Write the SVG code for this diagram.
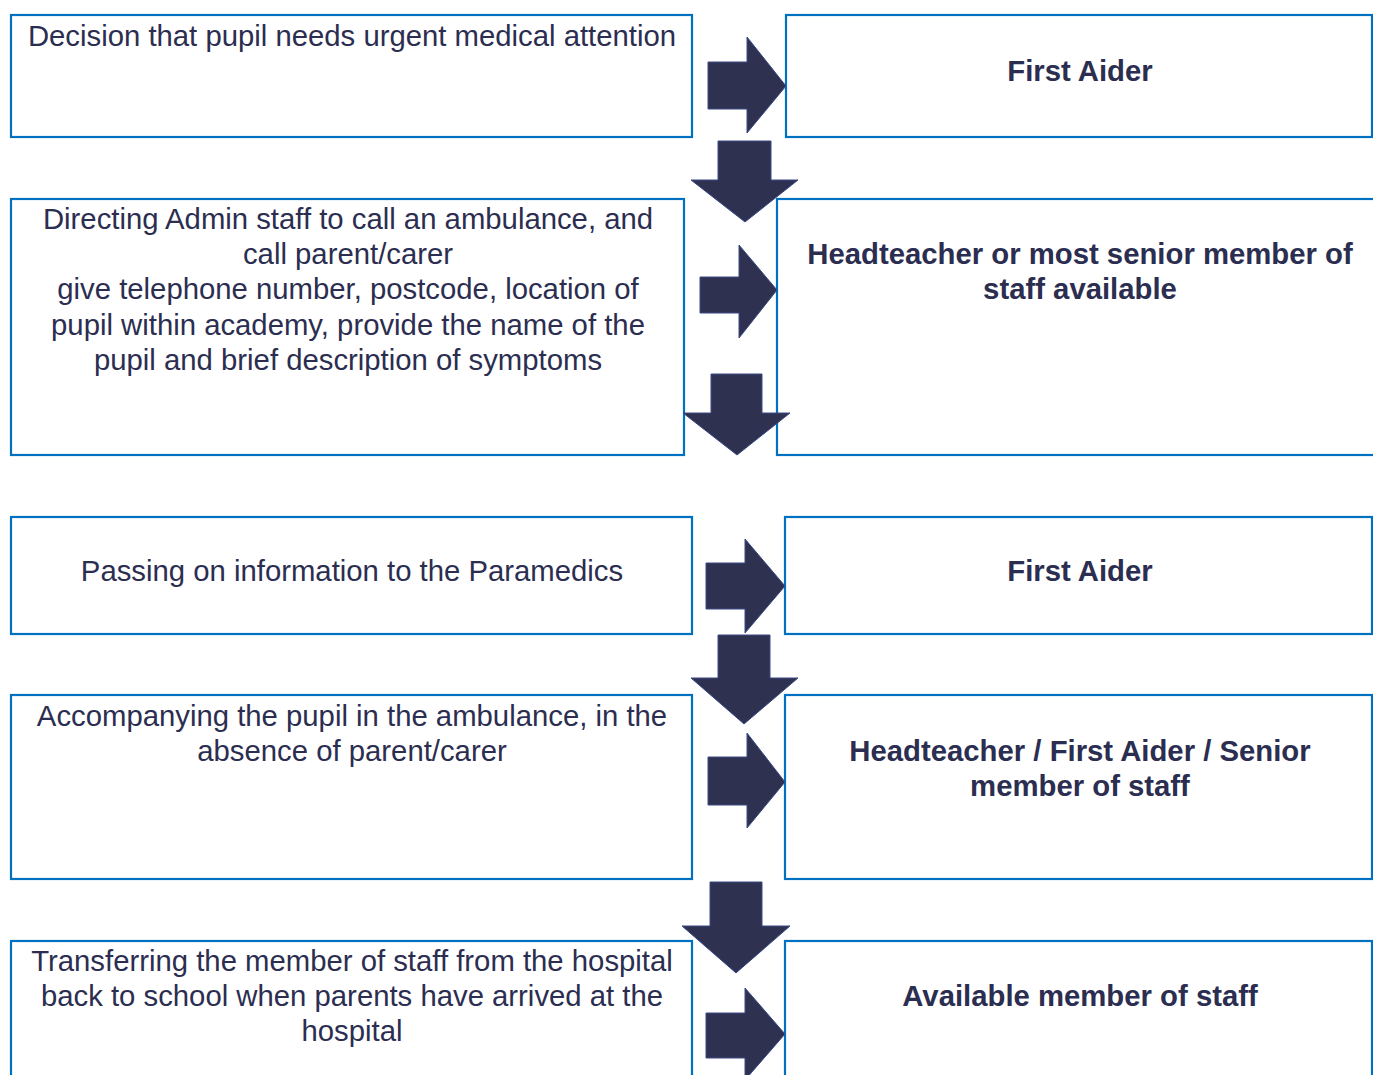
<svg xmlns="http://www.w3.org/2000/svg" width="1373" height="1075" viewBox="0 0 1373 1075">
<style>
.box{fill:#ffffff;stroke:#0070c0;stroke-width:2.2}
.t{font-family:"Liberation Sans",Arial,sans-serif;font-size:29.3px;fill:#2b2e50;text-anchor:middle}
.b{font-weight:bold}
.arr{fill:#2e3150;stroke:#3a4a86;stroke-width:1;stroke-linejoin:miter}
</style>
<rect width="1373" height="1075" fill="#ffffff"/>
<g id="node-decision"><rect class="box" x="11" y="15" width="681" height="122"/><text class="t" x="352" y="46">Decision that pupil needs urgent medical attention</text></g>
<g id="node-firstaider1"><rect class="box" x="786" y="15" width="586" height="122"/><text class="t b" x="1080" y="81">First Aider</text></g>
<g id="node-directing"><rect class="box" x="11" y="199" width="673" height="256"/><text class="t" x="348"><tspan x="348" y="229">Directing Admin staff to call an ambulance, and</tspan><tspan x="348" y="264">call parent/carer</tspan><tspan x="348" y="299">give telephone number, postcode, location of</tspan><tspan x="348" y="334.5">pupil within academy, provide the name of the</tspan><tspan x="348" y="370">pupil and brief description of symptoms</tspan></text></g>
<g id="node-headteacher"><rect class="box" x="777" y="199" width="620" height="256"/><text class="t b" x="1080"><tspan x="1080" y="264">Headteacher or most senior member of</tspan><tspan x="1080" y="299">staff available</tspan></text></g>
<g id="node-passing"><rect class="box" x="11" y="517" width="681" height="117"/><text class="t" x="352" y="581">Passing on information to the Paramedics</text></g>
<g id="node-firstaider2"><rect class="box" x="785" y="517" width="587" height="117"/><text class="t b" x="1080" y="581">First Aider</text></g>
<g id="node-accompanying"><rect class="box" x="11" y="695" width="681" height="184"/><text class="t" x="352"><tspan x="352" y="726">Accompanying the pupil in the ambulance, in the</tspan><tspan x="352" y="761">absence of parent/carer</tspan></text></g>
<g id="node-senior"><rect class="box" x="785" y="695" width="587" height="184"/><text class="t b" x="1080"><tspan x="1080" y="761">Headteacher / First Aider / Senior</tspan><tspan x="1080" y="796">member of staff</tspan></text></g>
<g id="node-transferring"><rect class="box" x="11" y="941" width="681" height="160"/><text class="t" x="352"><tspan x="352" y="971">Transferring the member of staff from the hospital</tspan><tspan x="352" y="1006">back to school when parents have arrived at the</tspan><tspan x="352" y="1041">hospital</tspan></text></g>
<g id="node-available"><rect class="box" x="785" y="941" width="587" height="160"/><text class="t b" x="1080" y="1006">Available member of staff</text></g>
<g id="connectors">
<polygon class="arr" points="708,62 747,62 747,37 786,86 747,133 747,109 708,109"/>
<polygon class="arr" points="718,141 771,141 771,180 798,180 745,222 691,180 718,180"/>
<polygon class="arr" points="700,277 739,277 739,245 777,290 739,338 739,313 700,313"/>
<polygon class="arr" points="711,374 762,374 762,413 790,413 737,455 683,413 711,413"/>
<polygon class="arr" points="706,563 745,563 745,539 785,586 745,633 745,609 706,609"/>
<polygon class="arr" points="718,635 770,635 770,678 798,678 744,724 691,678 718,678"/>
<polygon class="arr" points="708,757 747,757 747,733 785,782 747,828 747,805 708,805"/>
<polygon class="arr" points="710,882 762,882 762,926 790,926 736,973 682,926 710,926"/>
<polygon class="arr" points="706,1013 745,1013 745,988 785,1034 745,1080 745,1058 706,1058"/>
</g>
</svg>
